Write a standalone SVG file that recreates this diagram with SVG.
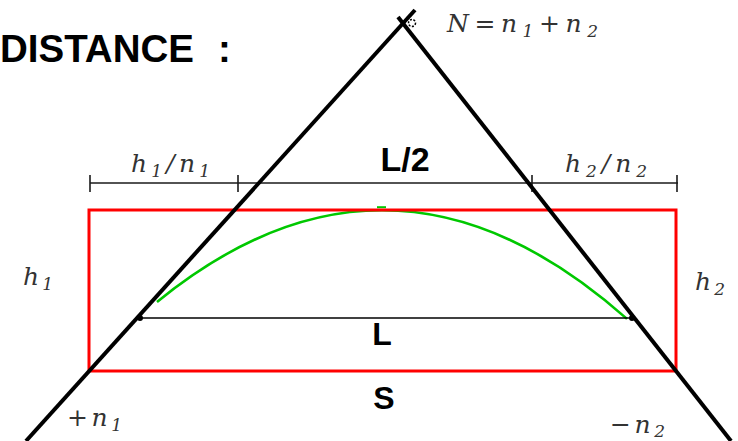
<svg xmlns="http://www.w3.org/2000/svg" width="738" height="441" viewBox="0 0 738 441">
<style>
.math{font-family:"DejaVu Serif","Liberation Serif",serif;font-style:italic;font-size:25px;fill:#333}
.sub{font-size:17px}
.bold{font-family:"Liberation Sans",Arial,sans-serif;font-weight:bold;fill:#000}
.thick{stroke:#000;stroke-width:4;fill:none;stroke-linecap:butt}
.dim{stroke:#1a1a1a;stroke-width:1.6;fill:none}
</style>
<rect width="738" height="441" fill="#fff"/>
<g id="title"><text class="bold" x="0" y="62" font-size="38.5">DISTANCE <tspan x="218">:</tspan></text></g>
<g id="arc">
<path d="M157,301.9 Q392,110.5 627,318.9" fill="none" stroke="#00c800" stroke-width="2.6"/>
<line x1="377" y1="207.2" x2="386" y2="207.2" stroke="#00c800" stroke-width="2"/>
</g>
<g id="rect"><rect x="89" y="210" width="587" height="161" fill="none" stroke="#ff0000" stroke-width="3"/></g>
<g id="dimension">
<line class="dim" x1="90" y1="183" x2="678" y2="183"/>
<line class="dim" x1="90" y1="175" x2="90" y2="192"/>
<line class="dim" x1="238" y1="175" x2="238" y2="192"/>
<line class="dim" x1="532" y1="175" x2="532" y2="192"/>
<line class="dim" x1="677" y1="175" x2="677" y2="192"/>
</g>
<g id="chord">
<line x1="140" y1="318" x2="632" y2="318" stroke="#000" stroke-width="1.6"/>
<circle cx="140" cy="318" r="3" fill="#000"/>
<circle cx="632" cy="318" r="3" fill="#000"/>
</g>
<g id="connectors">
<line class="thick" x1="26" y1="441" x2="415" y2="10"/>
<line class="thick" x1="398" y1="17" x2="731" y2="441"/>
<circle cx="412" cy="23" r="3.5" fill="#fff" stroke="#000" stroke-width="1.5" stroke-dasharray="2 1.5"/>
</g>
<g id="labels">
<text class="math" x="447" y="32" textLength="151" lengthAdjust="spacing">N=n<tspan class="sub" dy="5">1</tspan><tspan dy="-5">+n</tspan><tspan class="sub" dy="5">2</tspan></text>
<text class="math" x="131" y="172" textLength="79" lengthAdjust="spacing">h<tspan class="sub" dy="5">1</tspan><tspan dy="-5">/n</tspan><tspan class="sub" dy="5">1</tspan></text>
<text class="math" x="565" y="172" textLength="82" lengthAdjust="spacing">h<tspan class="sub" dy="5">2</tspan><tspan dy="-5">/n</tspan><tspan class="sub" dy="5">2</tspan></text>
<text class="math" x="23" y="285" textLength="30" lengthAdjust="spacing">h<tspan class="sub" dy="5">1</tspan></text>
<text class="math" x="695" y="290" textLength="30" lengthAdjust="spacing">h<tspan class="sub" dy="5">2</tspan></text>
<text class="math" x="67" y="426" textLength="55" lengthAdjust="spacing">+n<tspan class="sub" dy="5">1</tspan></text>
<text class="math" x="610" y="433" textLength="55" lengthAdjust="spacing">−n<tspan class="sub" dy="4">2</tspan></text>
<text class="bold" x="405" y="171" font-size="34" text-anchor="middle">L/2</text>
<text class="bold" x="382" y="345" font-size="32" text-anchor="middle">L</text>
<text class="bold" x="384" y="409" font-size="32" text-anchor="middle">S</text>
</g>
</svg>
